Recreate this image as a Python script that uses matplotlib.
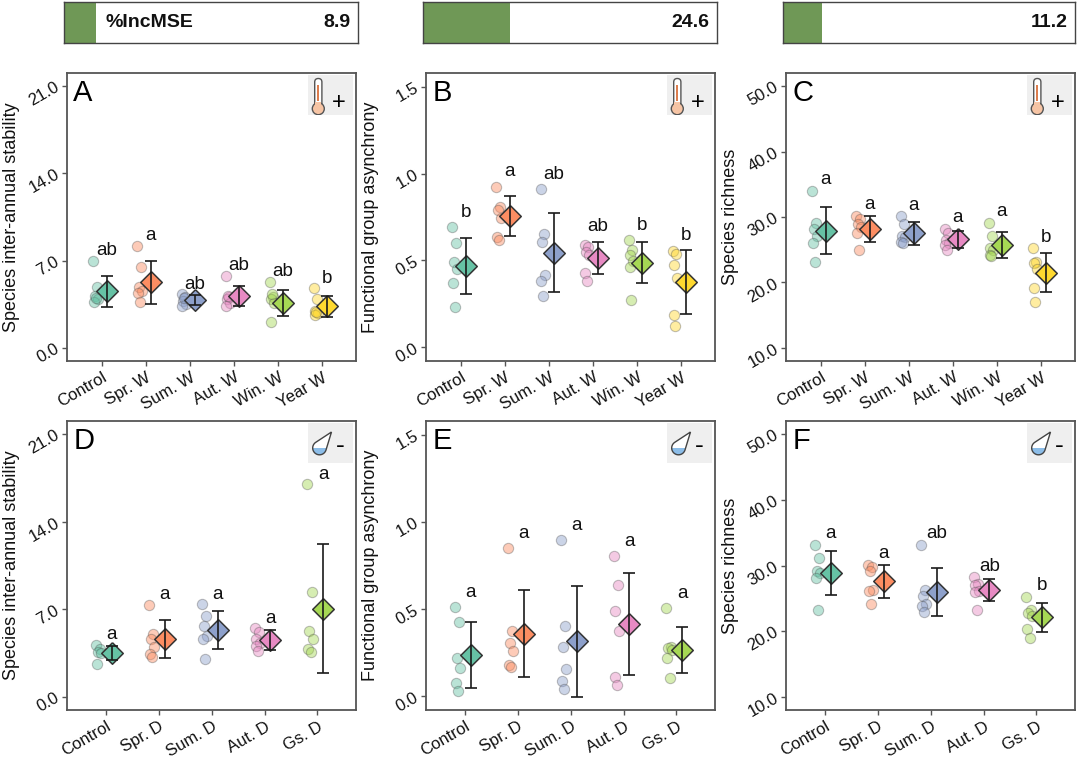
import numpy as np
import matplotlib
matplotlib.use('Agg')
import matplotlib.pyplot as plt
from matplotlib.patches import Rectangle, Circle, FancyBboxPatch, PathPatch
from matplotlib.path import Path

plt.rcParams['font.family'] = ['Liberation Sans', 'DejaVu Sans']

# ---------------- data ----------------
warming_groups = ['Control', 'Spr. W', 'Sum. W', 'Aut. W', 'Win. W', 'Year W']
drought_groups = ['Control', 'Spr. D', 'Sum. D', 'Aut. D', 'Gs. D']

imp_values = [8.9, 24.6, 11.2]
imp_title = '%IncMSE'

# A: species inter-annual stability, warming
stab_w_points = [[7.0, 4.9, 4.2, 3.9, 3.7, 4.0],
                 [8.2, 6.5, 4.9, 4.6, 4.4, 3.65],
                 [4.3, 4.1, 3.8, 3.55, 3.4, 4.0],
                 [5.8, 4.1, 3.9, 3.6, 3.4, 4.2],
                 [5.3, 4.1, 3.9, 3.6, 2.05, 4.3],
                 [4.8, 3.9, 3.0, 2.8, 2.6, 2.9]]
stab_w_mean = [4.54, 5.26, 3.87, 4.14, 3.6, 3.34]
stab_w_err = [1.24, 1.72, 0.4, 0.79, 1.02, 0.83]
stab_w_letters = ['ab', 'a', 'ab', 'ab', 'ab', 'b']

# B: functional group asynchrony, warming
asyn_w_points = [[0.69, 0.60, 0.49, 0.45, 0.37, 0.23],
                 [0.925, 0.81, 0.79, 0.745, 0.635, 0.62],
                 [0.91, 0.655, 0.605, 0.415, 0.38, 0.295],
                 [0.59, 0.575, 0.55, 0.53, 0.43, 0.38],
                 [0.615, 0.56, 0.53, 0.495, 0.46, 0.275],
                 [0.555, 0.54, 0.475, 0.40, 0.185, 0.125]]
asyn_w_mean = [0.469, 0.756, 0.544, 0.517, 0.487, 0.377]
asyn_w_err = [0.161, 0.113, 0.227, 0.092, 0.118, 0.183]
asyn_w_letters = ['b', 'a', 'ab', 'ab', 'b', 'b']

# C: species richness, warming
rich_w_points = [[34.0, 29.1, 28.2, 27.1, 26.0, 23.2],
                 [30.1, 29.7, 29.0, 28.5, 27.5, 25.0],
                 [30.1, 29.0, 27.1, 27.0, 26.2, 26.0],
                 [28.2, 27.5, 26.5, 26.0, 25.7, 24.9],
                 [29.1, 27.1, 25.2, 25.0, 24.2, 24.0],
                 [25.2, 23.1, 22.9, 22.0, 19.1, 17.0]]
rich_w_mean = [27.9, 28.2, 27.5, 26.6, 25.7, 21.5]
rich_w_err = [3.6, 1.98, 1.75, 1.3, 1.95, 2.95]
rich_w_letters = ['a', 'a', 'a', 'a', 'a', 'b']

# D: species inter-annual stability, drought
stab_d_points = [[4.15, 3.8, 3.6, 3.5, 2.6],
                 [7.35, 5.0, 4.6, 3.95, 3.45, 3.15],
                 [7.4, 6.5, 5.65, 4.85, 4.6, 3.0],
                 [5.5, 5.15, 4.6, 4.3, 4.1, 3.7],
                 [17.0, 8.4, 5.25, 4.6, 3.8, 3.55]]
stab_d_mean = [3.5, 4.61, 5.32, 4.56, 7.06]
stab_d_err = [0.55, 1.52, 1.52, 0.79, 5.17]
stab_d_letters = ['a', 'a', 'a', 'a', 'a']

# E: functional group asynchrony, drought
asyn_d_points = [[0.51, 0.425, 0.22, 0.16, 0.075, 0.03],
                 [0.85, 0.375, 0.305, 0.26, 0.177, 0.17],
                 [0.895, 0.405, 0.285, 0.155, 0.09, 0.04],
                 [0.805, 0.64, 0.49, 0.375, 0.11, 0.065],
                 [0.505, 0.285, 0.28, 0.265, 0.22, 0.105]]
asyn_d_mean = [0.239, 0.359, 0.315, 0.416, 0.267]
asyn_d_err = [0.19, 0.25, 0.32, 0.293, 0.131]
asyn_d_letters = ['a', 'a', 'a', 'a', 'a']

# F: species richness, drought
rich_d_points = [[33.1, 31.2, 29.2, 28.9, 28.1, 23.15],
                 [30.1, 29.8, 29.1, 26.2, 26.1, 24.2],
                 [33.1, 26.2, 25.3, 24.2, 23.8, 22.9],
                 [28.2, 27.2, 27.0, 26.1, 25.9, 23.15],
                 [25.2, 23.15, 22.8, 22.3, 20.3, 19.0]]
rich_d_mean = [28.9, 27.6, 25.9, 26.3, 22.1]
rich_d_err = [3.35, 2.5, 3.65, 1.68, 2.2]
rich_d_letters = ['a', 'a', 'ab', 'ab', 'b']

stab_ticks = [0.0, 7.0, 14.0, 21.0]
asyn_ticks = [0.0, 0.5, 1.0, 1.5]
rich_ticks = [10.0, 20.0, 30.0, 40.0, 50.0]

palette = ['#66c2a5', '#fc8d62', '#8da0cb', '#e78ac3', '#a6d854', '#ffd92f']

# ---------------- layout ----------------
W, H = 1080, 765
fig = plt.figure(figsize=(W / 100, H / 100), dpi=100)


def px_axes(x0, y0, x1, y1, **kw):
    return fig.add_axes([x0 / W, 1 - y1 / H, (x1 - x0) / W, (y1 - y0) / H], **kw)


col_x = [(67, 356), (426, 715), (786, 1075)]
row_y = [(73, 361), (421, 710)]

panels = [
    dict(letter='A', groups=warming_groups, pts=stab_w_points, mean=stab_w_mean, err=stab_w_err,
         lett=stab_w_letters, ylabel='Species inter-annual stability', ylim=(-1.05, 22.05),
         yticks=stab_ticks, pad=0.8, icon='temp', r=0, c=0),
    dict(letter='B', groups=warming_groups, pts=asyn_w_points, mean=asyn_w_mean, err=asyn_w_err,
         lett=asyn_w_letters, ylabel='Functional group asynchrony', ylim=(-0.078, 1.578),
         yticks=asyn_ticks, pad=0.085, icon='temp', r=0, c=1),
    dict(letter='C', groups=warming_groups, pts=rich_w_points, mean=rich_w_mean, err=rich_w_err,
         lett=rich_w_letters, ylabel='Species richness', ylim=(8.0, 52.0),
         yticks=rich_ticks, pad=1.7, icon='temp', r=0, c=2),
    dict(letter='D', groups=drought_groups, pts=stab_d_points, mean=stab_d_mean, err=stab_d_err,
         lett=stab_d_letters, ylabel='Species inter-annual stability', ylim=(-1.05, 22.05),
         yticks=stab_ticks, pad=0.8, icon='drop', r=1, c=0),
    dict(letter='E', groups=drought_groups, pts=asyn_d_points, mean=asyn_d_mean, err=asyn_d_err,
         lett=asyn_d_letters, ylabel='Functional group asynchrony', ylim=(-0.078, 1.578),
         yticks=asyn_ticks, pad=0.085, icon='drop', r=1, c=1),
    dict(letter='F', groups=drought_groups, pts=rich_d_points, mean=rich_d_mean, err=rich_d_err,
         lett=rich_d_letters, ylabel='Species richness', ylim=(8.0, 52.0),
         yticks=rich_ticks, pad=1.7, icon='drop', r=1, c=2),
]

jitter = [-0.05, 0.03, -0.015, 0.05, -0.03, 0.01]
diamond = [(0, 1), (1, 0), (0, -1), (-1, 0), (0, 1)]
spine_col = '#555555'
BOX_W, BOX_H = 45, 40


def draw_temp(ia):
    cx = 10.3
    stem = FancyBboxPatch((cx - 3.6, 6.5), 7.2, 30.0, boxstyle='round,pad=0,rounding_size=3.6',
                          fc='white', ec='#555555', lw=1.0)
    ia.add_patch(stem)
    bulb = Circle((cx, 6.3), 6.0, fc='#f6c4a4', ec='#555555', lw=1.0)
    ia.add_patch(bulb)
    ia.add_patch(Rectangle((cx - 3.0, 7.0), 6.0, 6.5, fc='#f6c4a4', ec='none'))
    ia.plot([cx, cx], [14.0, 30.0], color='#d9703c', lw=1.3, solid_capstyle='butt')
    ia.text(31.0, 12.0, '+', fontsize=17, ha='center', va='center', color='black')


def draw_drop(ia):
    c = np.array([11.5, 15.0])
    r = 6.8
    tip = np.array([23.5, 31.0])
    d = tip - c
    dist = np.hypot(*d)
    th = np.arctan2(d[1], d[0])
    al = np.arccos(r / dist)
    angs = np.linspace(th + al, th - al + 2 * np.pi, 50)
    arc = np.column_stack([c[0] + r * np.cos(angs), c[1] + r * np.sin(angs)])
    verts = np.vstack([tip, arc, tip])
    path = Path(verts)
    base = PathPatch(path, fc='white', ec='none')
    ia.add_patch(base)
    blue = Rectangle((0, 0), BOX_W, 15.0, fc='#8cbde8', ec='none')
    ia.add_patch(blue)
    blue.set_clip_path(base)
    ia.add_patch(PathPatch(path, fc='none', ec='#444444', lw=1.0))
    ia.text(32.0, 17.0, '-', fontsize=19, ha='center', va='center', color='black')


for p in panels:
    x0, x1 = col_x[p['c']]
    y0, y1 = row_y[p['r']]
    ax = px_axes(x0, y0, x1, y1)
    n = len(p['groups'])
    xs = np.arange(1, n + 1)
    for i in range(n):
        col = palette[i]
        vals = p['pts'][i]
        px = [xs[i] - 0.14 + jitter[k % len(jitter)] for k in range(len(vals))]
        ax.scatter(px, vals, s=55, facecolor=matplotlib.colors.to_rgba(col, 0.45),
                   edgecolor=(0.3, 0.3, 0.3, 0.35), linewidth=0.8, zorder=2)
        xd = xs[i] + 0.11
        ax.plot([xd], [p['mean'][i]], marker=diamond, markersize=15.5, color=col,
                markeredgecolor='#333333', markeredgewidth=1.1, zorder=3, linestyle='none')
        ax.errorbar([xd], [p['mean'][i]], yerr=[p['err'][i]], fmt='none', ecolor='#1a1a1a',
                    elinewidth=1.2, capsize=4, capthick=1.2, zorder=4)
        top = max(max(vals), p['mean'][i] + p['err'][i])
        ax.text(xd, top + p['pad'], p['lett'][i], fontsize=13.5, ha='center', va='center',
                color='#111111', zorder=5)
    if n == 6:
        ax.set_xlim(0.21, 6.77)
    else:
        ax.set_xlim(0.26, 5.73)
    ax.set_ylim(*p['ylim'])
    ax.set_xticks(xs)
    ax.set_xticklabels(p['groups'], rotation=30, ha='right', rotation_mode='anchor',
                       fontsize=12, color='#111111')
    ax.set_yticks(p['yticks'])
    ax.set_yticklabels(['%.1f' % v for v in p['yticks']], rotation=30, ha='right',
                       va='center', rotation_mode='anchor', fontsize=12, color='#111111')
    ax.tick_params(axis='both', length=3.5, width=1.0, color=spine_col, pad=3)
    for s in ax.spines.values():
        s.set_color(spine_col)
        s.set_linewidth(1.3)
    ax.set_ylabel(p['ylabel'], fontsize=13, color='#111111')
    ax.yaxis.set_label_coords(-0.163, 0.5)
    ax.text(0.022, 0.98, p['letter'], transform=ax.transAxes, fontsize=21, ha='left',
            va='top', color='black', zorder=6)
    # icon box
    bx1 = x1 - 3
    bx0 = bx1 - BOX_W
    by0 = y0 + 2
    by1 = by0 + BOX_H
    ia = px_axes(bx0, by0, bx1, by1)
    ia.set_xlim(0, BOX_W)
    ia.set_ylim(0, BOX_H)
    ia.set_facecolor('#efefef')
    ia.set_xticks([])
    ia.set_yticks([])
    for s in ia.spines.values():
        s.set_visible(False)
    if p['icon'] == 'temp':
        draw_temp(ia)
    else:
        draw_drop(ia)

# ---------------- importance bars ----------------
bar_x = [(64, 358), (423, 717), (783, 1075)]
for j, v in enumerate(imp_values):
    bx0, bx1 = bar_x[j]
    ba = px_axes(bx0, 2, bx1, 43)
    ba.barh([0.5], [v], height=1.0, color='#6f9856', edgecolor='none')
    ba.set_xlim(0, 83)
    ba.set_ylim(0, 1)
    ba.set_xticks([])
    ba.set_yticks([])
    for s in ba.spines.values():
        s.set_color('#444444')
        s.set_linewidth(1.0)
    if j == 0:
        ba.text(0.14, 0.5, imp_title, transform=ba.transAxes, fontsize=14,
                fontweight='bold', ha='left', va='center', color='#111111')
    ba.text(0.975, 0.5, '%.1f' % v, transform=ba.transAxes, fontsize=14,
            fontweight='bold', ha='right', va='center', color='#111111')

fig.savefig('out.png', dpi=100)
